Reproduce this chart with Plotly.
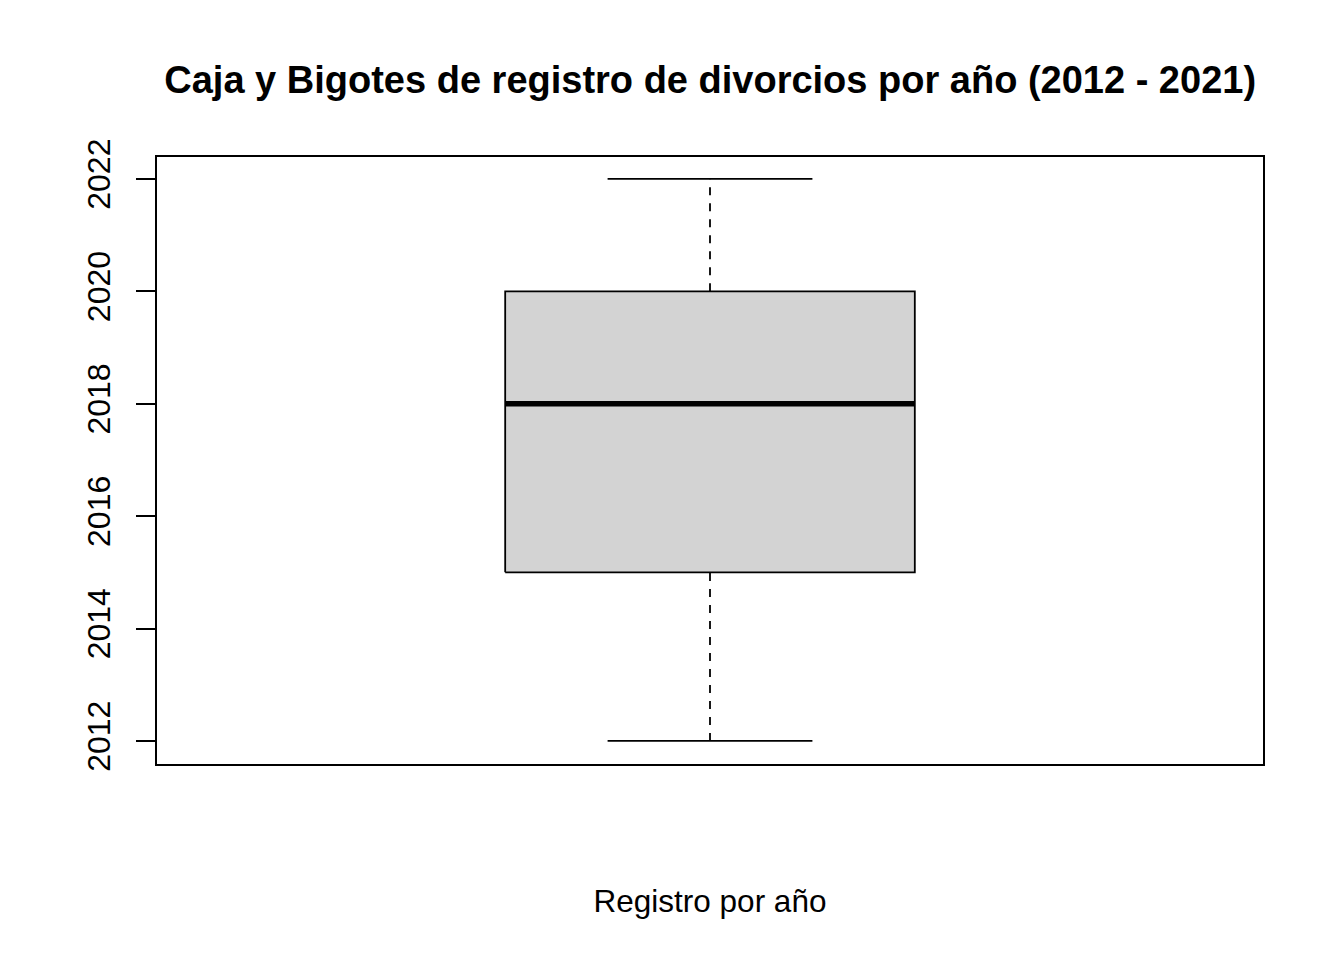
import plotly.graph_objects as go

# Summary statistics of the boxplot (years)
stat_names = ["min", "q1", "median", "q3", "max"]
stat_values = [2012, 2015, 2018, 2020, 2022]
y_ticks = [2012, 2014, 2016, 2018, 2020, 2022]

title = "Caja y Bigotes de registro de divorcios por año (2012 - 2021)"
x_title = "Registro por año"

vmin, q1, med, q3, vmax = stat_values
center = 1.0
half_box = 0.2
half_cap = 0.1
lw = 1.8

fig = go.Figure()
# box body
fig.add_trace(go.Scatter(
    x=[center - half_box, center + half_box, center + half_box, center - half_box, center - half_box],
    y=[q1, q1, q3, q3, q1],
    mode="lines", fill="toself", fillcolor="#d3d3d3",
    line=dict(color="black", width=lw), hoverinfo="skip", showlegend=False))
# whiskers (dashed)
for a, b in [(q3, vmax), (vmin, q1)]:
    fig.add_trace(go.Scatter(x=[center, center], y=[a, b], mode="lines",
                             line=dict(color="black", width=lw, dash="8px,8px"),
                             hoverinfo="skip", showlegend=False))
# caps
for v in [vmin, vmax]:
    fig.add_trace(go.Scatter(x=[center - half_cap, center + half_cap], y=[v, v], mode="lines",
                             line=dict(color="black", width=lw),
                             hoverinfo="skip", showlegend=False))
# median
fig.add_trace(go.Scatter(x=[center - half_box, center + half_box], y=[med, med], mode="lines",
                         line=dict(color="black", width=5.5),
                         hoverinfo="skip", showlegend=False))

font = "Liberation Sans, Arial, sans-serif"
fig.update_layout(
    width=1344, height=960,
    margin=dict(l=157, r=81, t=157, b=196),
    paper_bgcolor="white", plot_bgcolor="white",
    font=dict(family=font, color="black", size=31),
    title=dict(text="<b>" + title + "</b>", x=0.5284, xanchor="center",
               y=1 - 80 / 960, yanchor="middle", font=dict(size=38)),
    xaxis=dict(range=[0.46, 1.54], showticklabels=False, ticks="", showgrid=False,
               zeroline=False, showline=True, linecolor="black", linewidth=1.5, mirror=True,
               title=dict(text=x_title, standoff=125, font=dict(size=31.5))),
    yaxis=dict(range=[2011.59, 2022.39], tickvals=y_ticks, ticktext=[str(t) for t in y_ticks],
               ticks="outside", ticklen=19, tickwidth=1.5, tickcolor="black",
               tickangle=-90, showgrid=False, zeroline=False,
               showline=True, linecolor="black", linewidth=1.5, mirror=True,
               ticklabelstandoff=13, tickfont=dict(size=32)),
)

fig.write_html("out.html")
